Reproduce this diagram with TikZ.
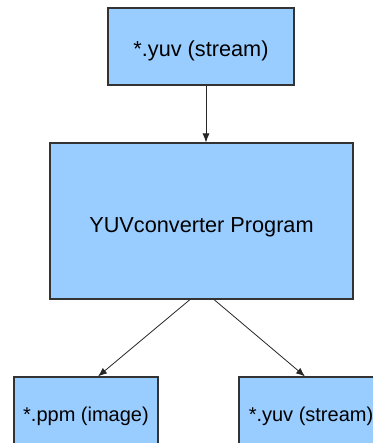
\documentclass[tikz,border=0pt]{standalone}
\usepackage{fontspec}
\setmainfont{Liberation Sans}
\usetikzlibrary{arrows.meta}
\definecolor{boxfill}{HTML}{99CCFF}
\definecolor{boxline}{HTML}{333333}
\tikzset{
  box/.style={draw=boxline, fill=boxfill, line width=1.1pt, inner sep=0pt,
    font=\fontsize{21.7}{26}\selectfont},
  smallbox/.style={box, font=\fontsize{20}{24}\selectfont},
  conn/.style={draw=black!85, line width=0.8pt, -{Latex[length=9pt,width=7pt]}}
}
\begin{document}
\begin{tikzpicture}[x=1pt,y=-1pt]
\useasboundingbox (0,0) rectangle (372,443);
\node[box, minimum width=186pt, minimum height=77pt, text height=22pt, text depth=2pt] (src) at (201,46.5) {*.yuv (stream)};
\node[box, minimum width=303pt, minimum height=156pt, text height=25pt, text depth=2pt] (prog) at (201.5,221) {YUVconverter Program};
\node[smallbox, minimum width=144pt, minimum height=78pt] (ppm) at (86,416) {*.ppm (image)};
\node[smallbox, minimum width=144pt, minimum height=78pt] (yuv) at (311,416) {*.yuv (stream)};
\draw[conn] ([xshift=5pt]src.south) -- ([xshift=4.5pt]prog.north);
\draw[conn] ([xshift=-11.5pt]prog.south) -- ([xshift=12pt]ppm.north);
\draw[conn] ([xshift=12.5pt]prog.south) -- ([xshift=-6pt]yuv.north);
\end{tikzpicture}
\end{document}
